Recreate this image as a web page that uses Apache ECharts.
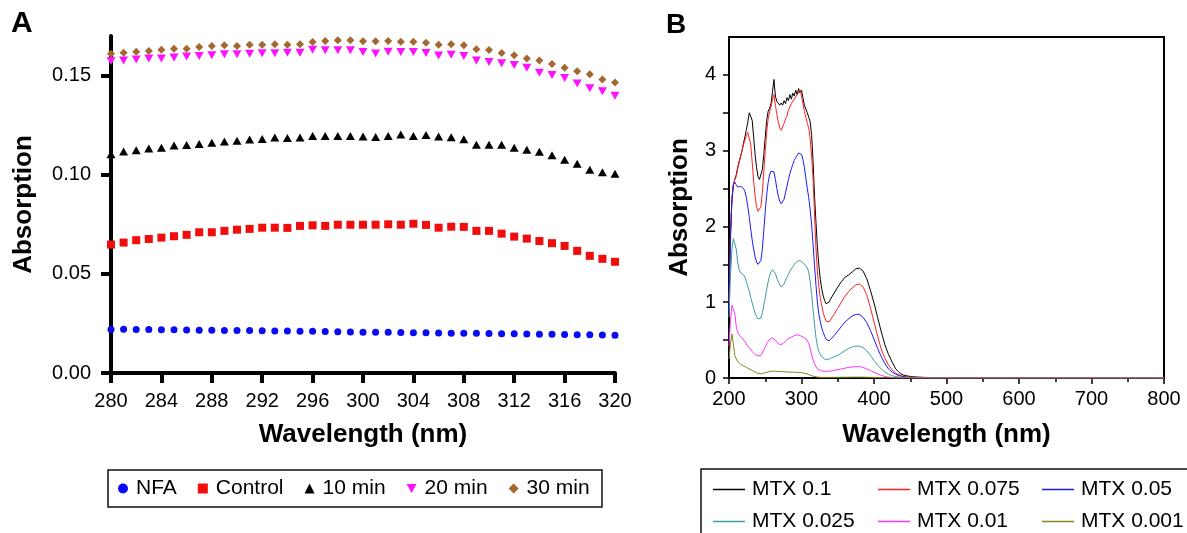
<!DOCTYPE html>
<html>
<head>
<meta charset="utf-8">
<script src="https://cdn.jsdelivr.net/npm/echarts@6/dist/echarts.min.js"></script>
<style>
html,body{margin:0;padding:0;background:#fff;}
#chart{width:1187px;height:533px;}
</style>
</head>
<body>
<div id="chart"></div>
<script>
// ---------- Panel A data ----------
const wavelengthA = [280,281,282,283,284,285,286,287,288,289,290,291,292,293,294,295,296,297,298,299,300,301,302,303,304,305,306,307,308,309,310,311,312,313,314,315,316,317,318,319,320];
const nfa = [0.0220,0.0221,0.0220,0.0219,0.0218,0.0218,0.0217,0.0216,0.0216,0.0215,0.0215,0.0214,0.0213,0.0212,0.0212,0.0211,0.0210,0.0209,0.0208,0.0207,0.0206,0.0206,0.0205,0.0204,0.0203,0.0203,0.0202,0.0201,0.0201,0.0200,0.0199,0.0198,0.0198,0.0197,0.0196,0.0195,0.0194,0.0193,0.0193,0.0192,0.0191];
const control = [0.0648,0.0658,0.0670,0.0676,0.0683,0.0690,0.0697,0.0710,0.0710,0.0717,0.0723,0.0727,0.0733,0.0733,0.0732,0.0742,0.0745,0.0742,0.0748,0.0748,0.0748,0.0748,0.0750,0.0748,0.0753,0.0747,0.0733,0.0738,0.0737,0.0717,0.0717,0.0703,0.0688,0.0678,0.0666,0.0655,0.0641,0.0616,0.0591,0.0576,0.0561];
const min10 = [0.1104,0.1117,0.1124,0.1133,0.1136,0.1148,0.1150,0.1155,0.1161,0.1168,0.1171,0.1178,0.1181,0.1188,0.1185,0.1188,0.1196,0.1196,0.1196,0.1196,0.1193,0.1191,0.1196,0.1203,0.1196,0.1201,0.1193,0.1189,0.1179,0.1152,0.1151,0.1151,0.1136,0.1126,0.1116,0.1099,0.1076,0.1055,0.1025,0.1013,0.1005];
const min20 = [0.1574,0.1577,0.1582,0.1587,0.1587,0.1592,0.1596,0.1599,0.1603,0.1608,0.1608,0.1611,0.1613,0.1613,0.1616,0.1616,0.1631,0.1628,0.1628,0.1628,0.1619,0.1612,0.1621,0.1619,0.1619,0.1614,0.1602,0.1606,0.1599,0.1576,0.1569,0.1562,0.1554,0.1540,0.1515,0.1503,0.1488,0.1460,0.1436,0.1421,0.1399];
const min30 = [0.1611,0.1616,0.1621,0.1624,0.1631,0.1636,0.1636,0.1644,0.1649,0.1653,0.1649,0.1656,0.1656,0.1658,0.1656,0.1658,0.1670,0.1675,0.1678,0.1678,0.1673,0.1673,0.1675,0.1671,0.1671,0.1666,0.1656,0.1658,0.1653,0.1633,0.1629,0.1614,0.1603,0.1586,0.1577,0.1559,0.1540,0.1522,0.1507,0.1480,0.1465];
const yTicksA = [0, 0.05, 0.10, 0.15];
const namesA = ['NFA','Control','10 min','20 min','30 min'];

// ---------- Panel B data ----------
const wavelengthB = [200,202,204,206,208,210,212,214,216,218,220,222,224,226,228,230,232,234,236,238,240,242,244,246,248,250,252,254,256,258,260,262,264,266,268,270,272,274,276,278,280,282,284,286,288,290,292,294,296,298,300,302,304,306,308,310,312,314,316,318,320,322,324,326,328,330,332,334,336,338,340,
345,350,355,360,365,370,375,380,385,390,395,400,405,410,415,420,425,430,435,440,445,450,
460,470,480,500,550,600,650,700,750,800];
const mtx0100 = [1.0,1.9,2.35,2.55,2.62,2.68,2.78,2.86,2.92,3.00,
3.10,3.18,3.28,3.38,3.50,3.52,3.40,3.18,2.95,2.78,
2.66,2.62,2.64,2.75,2.95,3.18,3.40,3.52,3.56,3.62,
3.78,3.94,3.72,3.65,3.66,3.60,3.63,3.60,3.66,3.62,
3.70,3.66,3.74,3.68,3.76,3.72,3.80,3.74,3.82,3.76,
3.80,3.70,3.60,3.55,3.50,3.44,3.38,3.20,2.85,2.40,
2.05,1.72,1.48,1.30,1.17,1.08,1.02,0.98,0.98,1.00,
1.04,
1.12,1.20,1.27,1.33,1.36,1.40,1.44,1.45,1.41,1.31,1.16,
0.99,0.80,0.61,0.44,0.31,0.21,0.12,0.07,0.04,0.03,0.02,
0.012,0.008,0.006,0.004,0.003,0.002,0.002,0.001,0.001,0.001];
const mtx0075 = [1.0,1.9,2.35,2.55,2.62,2.66,2.76,2.84,2.93,3.00,
3.08,3.14,3.20,3.24,3.22,3.08,2.85,2.60,2.40,2.26,
2.20,2.20,2.26,2.45,2.72,3.00,3.25,3.42,3.52,3.58,
3.68,3.74,3.60,3.48,3.38,3.30,3.27,3.29,3.36,3.42,
3.46,3.54,3.52,3.62,3.60,3.68,3.66,3.74,3.72,3.80,
3.72,3.62,3.52,3.44,3.36,3.30,3.15,2.92,2.62,2.15,
1.70,1.40,1.20,1.05,0.95,0.86,0.80,0.75,0.73,0.74,
0.76,
0.84,0.92,1.00,1.08,1.14,1.19,1.23,1.24,1.20,1.10,0.93,
0.74,0.55,0.38,0.26,0.17,0.11,0.06,0.04,0.02,0.015,0.01,
0.008,0.006,0.005,0.004,0.003,0.002,0.002,0.001,0.001,0.001];
const mtx0050 = [0.9,1.8,2.35,2.55,2.58,2.55,2.52,2.52,2.53,2.52,
2.50,2.46,2.38,2.26,2.12,1.96,1.82,1.70,1.60,1.53,
1.50,1.50,1.55,1.70,1.95,2.20,2.42,2.58,2.68,2.73,
2.75,2.72,2.62,2.50,2.40,2.33,2.30,2.31,2.36,2.45,
2.53,2.62,2.70,2.76,2.82,2.87,2.91,2.94,2.97,2.97,
2.95,2.88,2.78,2.64,2.50,2.38,2.22,2.02,1.76,1.48,
1.22,0.99,0.84,0.74,0.66,0.60,0.55,0.51,0.49,0.49,
0.50,
0.56,0.62,0.68,0.74,0.78,0.82,0.84,0.84,0.80,0.73,0.63,
0.51,0.39,0.28,0.19,0.12,0.08,0.05,0.03,0.02,0.01,0.008,
0.006,0.005,0.004,0.003,0.002,0.002,0.001,0.001,0.001,0.001];
const mtx0025 = [0.80,1.35,1.70,1.84,1.86,1.70,1.52,1.43,1.39,1.37,
1.36,1.33,1.27,1.21,1.14,1.06,0.99,0.92,0.86,0.81,
0.78,0.77,0.79,0.86,0.96,1.06,1.17,1.27,1.35,1.40,
1.43,1.42,1.38,1.32,1.27,1.23,1.20,1.20,1.24,1.29,
1.33,1.37,1.41,1.44,1.47,1.50,1.52,1.54,1.55,1.55,
1.54,1.52,1.50,1.48,1.45,1.40,1.27,1.10,0.90,0.70,
0.53,0.42,0.35,0.31,0.28,0.26,0.25,0.24,0.24,0.25,
0.26,
0.28,0.30,0.33,0.36,0.39,0.41,0.42,0.42,0.40,0.36,0.30,
0.23,0.17,0.12,0.08,0.05,0.03,0.02,0.012,0.008,0.006,0.005,
0.004,0.003,0.003,0.002,0.002,0.001,0.001,0.001,0.001,0.001];
const mtx0010 = [0.42,0.75,0.96,0.98,0.85,0.68,0.60,0.57,0.55,0.53,
0.51,0.48,0.45,0.42,0.40,0.38,0.35,0.33,0.31,0.30,
0.29,0.29,0.30,0.33,0.37,0.41,0.45,0.48,0.51,0.53,
0.53,0.52,0.50,0.47,0.45,0.44,0.44,0.45,0.47,0.49,
0.51,0.52,0.53,0.54,0.55,0.56,0.56,0.57,0.57,0.56,
0.55,0.54,0.53,0.52,0.50,0.46,0.39,0.31,0.24,0.19,
0.15,0.12,0.11,0.10,0.095,0.09,0.09,0.088,0.088,0.09,
0.095,
0.10,0.11,0.12,0.13,0.14,0.145,0.15,0.15,0.14,0.12,0.10,
0.075,0.055,0.035,0.02,0.012,0.008,0.005,0.004,0.003,0.003,0.002,
0.002,0.002,0.001,0.001,0.001,0.001,0.001,0.001,0.001,0.001];
const mtx0001 = [0.25,0.45,0.58,0.45,0.30,0.25,0.22,0.20,0.18,0.17,
0.16,0.15,0.14,0.13,0.12,0.11,0.10,0.09,0.08,0.07,
0.06,0.055,0.055,0.06,0.065,0.07,0.075,0.08,0.085,0.088,
0.09,0.09,0.09,0.088,0.086,0.085,0.085,0.083,0.082,0.08,
0.08,0.08,0.078,0.078,0.077,0.076,0.075,0.074,0.073,0.072,
0.07,0.067,0.063,0.058,0.052,0.045,0.038,0.03,0.024,0.019,
0.015,0.012,0.01,0.009,0.008,0.008,0.008,0.008,0.008,0.008,
0.008,
0.009,0.009,0.01,0.01,0.011,0.011,0.012,0.012,0.011,0.01,0.009,
0.008,0.007,0.006,0.005,0.004,0.003,0.003,0.002,0.002,0.002,0.002,
0.001,0.001,0.001,0.001,0.001,0.001,0.001,0.001,0.001,0.001];
const namesB = ['MTX 0.1','MTX 0.075','MTX 0.05','MTX 0.025','MTX 0.01','MTX 0.001'];
const yTicksB = [0,1,2,3,4];
const yMinorB = [0,0.5,1,1.5,2,2.5,3,3.5,4];

// ---------- build ----------
const FONT = '"Liberation Sans", Arial, sans-serif';
const pairs = (xs, ys) => xs.map((x, i) => [x, ys[i]]);

const seriesA = [
  {name: namesA[0], data: nfa, symbol: 'circle', symbolSize: 7, color: '#0a0af5'},
  {name: namesA[1], data: control, symbol: 'rect', symbolSize: 8, color: '#f20d0d'},
  {name: namesA[2], data: min10, symbol: 'triangle', symbolSize: [9, 8], color: '#000000'},
  {name: namesA[3], data: min20, symbol: 'path://M0,0L10,0L5,9Z', symbolSize: [9, 8], color: '#ff10ff'},
  {name: namesA[4], data: min30, symbol: 'diamond', symbolSize: 8, color: '#a3672f'}
].map(s => ({
  type: 'scatter', name: s.name, xAxisIndex: 0, yAxisIndex: 0,
  data: pairs(wavelengthA, s.data), symbol: s.symbol, symbolSize: s.symbolSize,
  itemStyle: {color: s.color, opacity: 1}, z: 3
}));

const colorsB = ['#000000', '#ff2020', '#1a1aff', '#3d9c9c', '#ff33ff', '#858520'];
const valsB = [mtx0100, mtx0075, mtx0050, mtx0025, mtx0010, mtx0001];
const seriesB = valsB.map((v, i) => ({
  type: 'line', name: namesB[i], xAxisIndex: 1, yAxisIndex: 1,
  data: pairs(wavelengthB, v), symbol: 'none', showSymbol: false,
  lineStyle: {width: 1, color: colorsB[i]}, itemStyle: {color: colorsB[i]},
  z: 3
}));

const legendTextA = {fontSize: 21, fontFamily: FONT, color: '#000', lineHeight: 20, padding: [0, 0, 0, 3]};
const legendTextB = {fontSize: 21, fontFamily: FONT, color: '#000', lineHeight: 20, padding: [0, 0, 0, 2]};

const legB = (items, left) => ({
  data: items, left: left, top: 479, orient: 'vertical', selectedMode: false,
  icon: 'rect', itemWidth: 32, itemHeight: 1.5, itemGap: 11, textStyle: legendTextB, padding: 0
});

const option = {
  animation: false,
  backgroundColor: '#fff',
  title: [
    {text: 'A', left: 11, top: 9, padding: 0, textStyle: {fontSize: 30, fontWeight: 'bold', fontFamily: FONT, color: '#000'}},
    {text: 'B', left: 666, top: 11, padding: 0, textStyle: {fontSize: 28, fontWeight: 'bold', fontFamily: FONT, color: '#000'}}
  ],
  grid: [
    {left: 111, right: 572, top: 36, bottom: 160, containLabel: false},
    {left: 729, right: 23, top: 37, bottom: 155, containLabel: false, show: true, borderColor: '#000', borderWidth: 2, backgroundColor: 'transparent'}
  ],
  xAxis: [
    {
      type: 'value', gridIndex: 0, min: 280, max: 320, interval: 4,
      name: 'Wavelength (nm)', nameLocation: 'middle', nameGap: 49,
      nameTextStyle: {fontSize: 26, fontWeight: 'bold', fontFamily: FONT, color: '#000'},
      axisLine: {show: true, onZero: false, lineStyle: {color: '#000', width: 4}},
      axisTick: {show: true, length: 10, lineStyle: {color: '#000', width: 4}},
      axisLabel: {fontSize: 20, fontFamily: FONT, color: '#000', margin: 18},
      splitLine: {show: false}
    },
    {
      type: 'value', gridIndex: 1, min: 200, max: 800, interval: 100,
      name: 'Wavelength (nm)', nameLocation: 'middle', nameGap: 44,
      nameTextStyle: {fontSize: 26, fontWeight: 'bold', fontFamily: FONT, color: '#000'},
      axisLine: {show: true, onZero: false, lineStyle: {color: '#000', width: 2}},
      axisTick: {show: true, length: 6, lineStyle: {color: '#000', width: 1.5}},
      minorTick: {show: true, splitNumber: 2, length: 4, lineStyle: {color: '#000', width: 1.5}},
      axisLabel: {fontSize: 20, fontFamily: FONT, color: '#000', margin: 11},
      splitLine: {show: false}, minorSplitLine: {show: false}
    }
  ],
  yAxis: [
    {
      type: 'value', gridIndex: 0, min: 0, max: 0.17,
      name: 'Absorption', nameLocation: 'middle', nameGap: 74,
      nameTextStyle: {fontSize: 26, fontWeight: 'bold', fontFamily: FONT, color: '#000'},
      axisLine: {show: true, onZero: false, lineStyle: {color: '#000', width: 4}},
      axisTick: {show: true, length: 10, customValues: yTicksA, lineStyle: {color: '#000', width: 4}},
      axisLabel: {fontSize: 20, fontFamily: FONT, color: '#000', margin: 20, customValues: yTicksA,
        formatter: v => v.toFixed(2)},
      splitLine: {show: false}
    },
    {
      type: 'value', gridIndex: 1, min: 0, max: 4.5, interval: 0.5,
      name: 'Absorption', nameLocation: 'middle', nameGap: 36,
      nameTextStyle: {fontSize: 26, fontWeight: 'bold', fontFamily: FONT, color: '#000'},
      axisLine: {show: true, onZero: false, lineStyle: {color: '#000', width: 2}},
      axisTick: {show: true, length: 6, customValues: yMinorB, lineStyle: {color: '#000', width: 1.5}},
      axisLabel: {fontSize: 20, fontFamily: FONT, color: '#000', margin: 13, customValues: yTicksB},
      splitLine: {show: false}
    }
  ],
  legend: [
    {
      data: namesA, left: 118, top: 478, orient: 'horizontal', selectedMode: false,
      itemWidth: 10, itemHeight: 10, itemGap: 21, textStyle: legendTextA, padding: 0
    },
    legB([namesB[0], namesB[3]], 713),
    legB([namesB[1], namesB[4]], 878),
    legB([namesB[2], namesB[5]], 1042)
  ],
  graphic: [
    {type: 'rect', shape: {x: 108, y: 470, width: 494, height: 37}, style: {fill: 'none', stroke: '#111', lineWidth: 1.5}, silent: true},
    {type: 'rect', shape: {x: 701, y: 469, width: 520, height: 90}, style: {fill: 'none', stroke: '#111', lineWidth: 1.5}, silent: true}
  ],
  series: seriesA.concat(seriesB)
};

const chart = echarts.init(document.getElementById('chart'), null, {renderer: 'canvas'});
chart.setOption(option);
</script>
</body>
</html>
